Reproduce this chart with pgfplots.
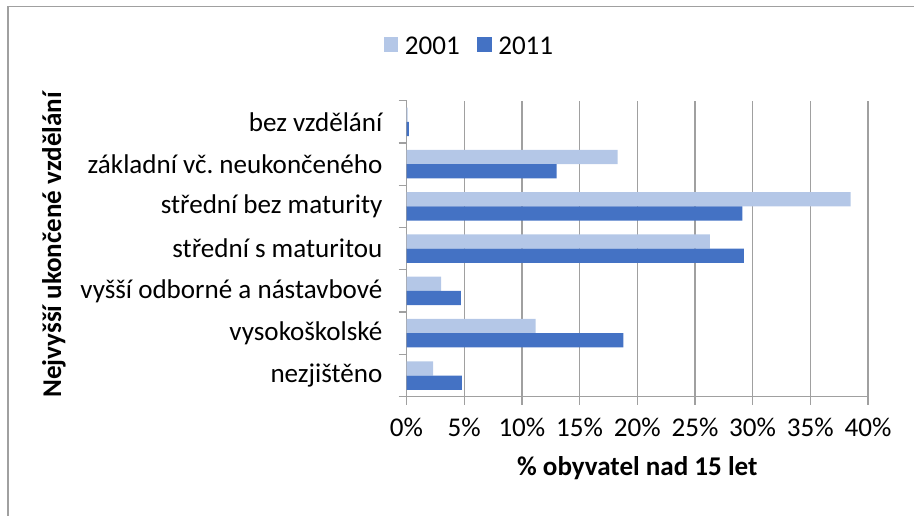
\documentclass[border=0pt]{standalone}
\usepackage{fontspec}
\setmainfont{Carlito}
\usepackage{pgfplots}
\pgfplotsset{compat=1.18}
\definecolor{c2001}{HTML}{B4C7E7}
\definecolor{c2011}{HTML}{4472C4}
\definecolor{gridgray}{HTML}{A0A0A0}
\frenchspacing
\begin{document}
\begin{tikzpicture}[font=\fontsize{20.3}{24}\selectfont]
% page = 914 x 516 px, 1 px = 0.75pt
\path[use as bounding box] (0,0) rectangle (685.5pt,387pt);
\draw[gridgray, line width=1.1pt] (6pt,0) -- (6pt,382.1pt) -- (685.5pt,382.1pt);
\begin{axis}[
  at={(304.9pt,89.5pt)}, anchor=south west,
  width=346.1pt, height=222pt, scale only axis,
  xbar, bar width=10.7pt,
  xmin=0, xmax=40, ymin=-0.5, ymax=6.5,
  axis x line*=bottom, axis y line*=left,
  axis line style={gridgray, line width=0.9pt},
  xmajorgrids, grid style={gridgray, line width=0.9pt},
  tick align=outside, major tick length=6pt,
  xtick={0,5,...,40},
  xticklabels={0\%,5\%,10\%,15\%,20\%,25\%,30\%,35\%,40\%},
  x tick style={gridgray, line width=0.9pt},
  xticklabel shift=6.4pt,
  ytick={0,...,6},
  yticklabels={nezjištěno,vysokoškolské,vyšší odborné a nástavbové,střední s maturitou,střední bez maturity,základní vč.\ neukončeného,bez vzdělání},
  y tick style={draw=none},
  yticklabel shift=8.6pt,
  extra y ticks={-0.5,0.5,...,6.5},
  extra y tick labels={},
  extra y tick style={grid=none, y tick style={draw=gridgray, line width=0.9pt}},
  xlabel={\bfseries \% obyvatel nad 15 let},
  xlabel style={at={(axis description cs:0.5,0)}, anchor=base, yshift=-59.5pt},
  ylabel={\bfseries Nejvyšší ukončené vzdělání},
  ylabel style={at={(axis description cs:-0.7487,0.5125)}, anchor=base},
  legend style={at={(axis description cs:0.137,1.181)}, anchor=center,
    draw=none, fill=none, legend columns=2,
    /tikz/every odd column/.append style={column sep=3pt},
    /tikz/every even column/.append style={column sep=11pt}},
  sq/.style={legend image code/.code={\fill[##1] (0pt,-3.6pt) rectangle (10.9pt,7.3pt);}},
]
\addplot[fill=c2001, draw=none, bar shift=5.35pt, sq] coordinates {
  (2.3,0) (11.2,1) (3.0,2) (26.3,3) (38.5,4) (18.3,5) (0.1,6)};
\addlegendentry{2001}
\addplot[fill=c2011, draw=none, bar shift=-5.35pt, sq] coordinates {
  (4.8,0) (18.8,1) (4.7,2) (29.25,3) (29.1,4) (13.0,5) (0.2,6)};
\addlegendentry{2011}
\end{axis}
\end{tikzpicture}
\end{document}
